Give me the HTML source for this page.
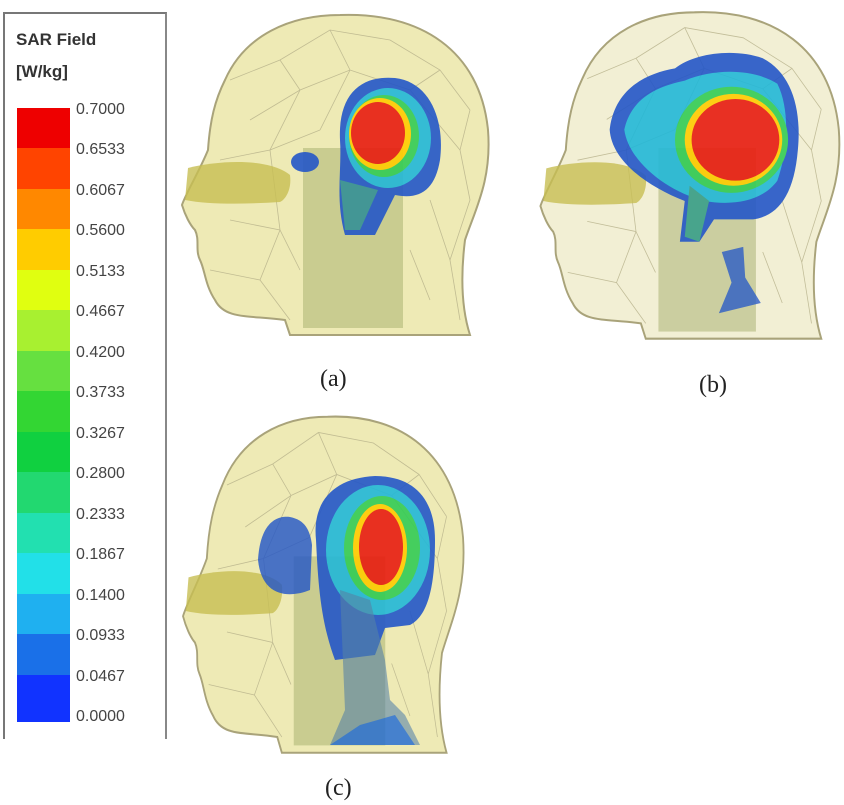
<!DOCTYPE html>
<html><head><style>
body{margin:0;background:#fff;width:844px;height:805px;overflow:hidden;position:relative;font-family:"Liberation Sans",sans-serif}
#leg{position:absolute;left:3px;top:12px;width:160px;height:725px;border:2px solid #777;border-bottom:none;border-right:2px solid #888;background:#fff}
.t{position:absolute;left:11px;font-weight:bold;font-size:17px;color:#333}
.lb{position:absolute;left:76px;font-size:16px;color:#444}
.cap{position:absolute;font-family:"Liberation Serif",serif;font-size:24px;color:#222}
</style></head><body>
<div id="leg">
<div class="t" style="top:16px">SAR Field</div>
<div class="t" style="top:48px">[W/kg]</div>
</div>
<svg width="844" height="805" style="position:absolute;left:0;top:0">
<defs>
<g id="outline">
<path d="M290,335 L285,320 C250,315 225,320 215,300 C205,285 205,270 200,260 C195,250 200,240 195,230 C190,225 185,215 182,205 C185,195 200,170 208,150 C210,120 215,100 225,80 C245,35 290,15 340,15 C420,12 480,50 488,130 C492,180 475,210 465,240 C460,280 462,310 470,335 Z" stroke="#a9a37a" stroke-width="2"/>
</g>
<g id="inner">
<g stroke="#b5b08a" stroke-width="0.8" fill="none" opacity="0.8">
<path d="M230,80 L280,60 L330,30 L390,40 L440,70 L470,110 M250,120 L300,90 L350,70 L410,90 L460,150 M220,160 L270,150 L320,130 M230,220 L280,230 L300,270 M210,270 L260,280 L290,320 M280,60 L300,90 L270,150 L280,230 L260,280 M330,30 L350,70 L320,130 M440,70 L410,90 M470,110 L460,150 L470,200 L450,260 L460,320 M430,200 L450,260 M410,250 L430,300"/>
</g>
<path d="M188,168 C220,160 270,158 290,175 C292,190 285,200 280,202 C250,204 210,205 185,200 Z" fill="#c7be52" opacity="0.8"/>
<rect x="303" y="148" width="100" height="180" fill="#a4ad6b" opacity="0.5"/>
</g>
</defs>
<g>
<rect x="17" y="108" width="53" height="41" fill="#ee0000"/>
<rect x="17" y="148" width="53" height="41" fill="#ff4400"/>
<rect x="17" y="189" width="53" height="41" fill="#ff8800"/>
<rect x="17" y="229" width="53" height="41" fill="#ffcc00"/>
<rect x="17" y="270" width="53" height="41" fill="#e0ff10"/>
<rect x="17" y="310" width="53" height="41" fill="#a8f030"/>
<rect x="17" y="351" width="53" height="41" fill="#66e040"/>
<rect x="17" y="391" width="53" height="41" fill="#33d633"/>
<rect x="17" y="432" width="53" height="41" fill="#10d040"/>
<rect x="17" y="472" width="53" height="41" fill="#22d870"/>
<rect x="17" y="513" width="53" height="41" fill="#22e0b0"/>
<rect x="17" y="553" width="53" height="41" fill="#22e0e8"/>
<rect x="17" y="594" width="53" height="41" fill="#1fb0f0"/>
<rect x="17" y="634" width="53" height="41" fill="#1a70e8"/>
<rect x="17" y="675" width="53" height="47" fill="#1133ff"/>
</g>
<!-- head a -->
<use href="#outline" fill="#eeeab5"/>
<use href="#inner"/>
<g opacity="0.9">
<path d="M340,140 C338,95 360,75 395,78 C430,82 445,120 440,160 C435,190 420,200 395,195 L375,235 L345,235 C335,200 342,170 340,140 Z" fill="#2457c8"/>
<ellipse cx="388" cy="138" rx="43" ry="50" fill="#22b8d8"/>
<ellipse cx="384" cy="136" rx="35" ry="41" fill="#33cc55"/>
<ellipse cx="380" cy="134" rx="31" ry="36" fill="#ffcc00"/>
<ellipse cx="378" cy="133" rx="27" ry="31" fill="#e81c10"/>
<path d="M340,180 L345,230 L360,230 L378,190 Z" fill="#3aa08a" opacity="0.8"/>
<ellipse cx="305" cy="162" rx="14" ry="10" fill="#2457c8"/>
</g>
<!-- head b -->
<g transform="translate(363,-3) scale(0.975,1.02)">
<use href="#outline" fill="#f2efd4"/>
<use href="#inner"/>
<g opacity="0.9">
<path d="M253,130 C258,90 290,75 320,70 C340,55 380,50 410,60 C440,75 450,110 446,150 C442,195 425,215 400,218 L360,218 L345,240 L325,240 L330,200 C290,185 255,160 253,130 Z" fill="#2457c8"/>
<path d="M268,130 C275,100 300,88 330,82 C360,70 400,70 425,85 C438,110 436,150 425,180 C410,200 380,205 350,200 C310,190 272,160 268,130 Z" fill="#22b8d8"/>
<ellipse cx="378" cy="140" rx="58" ry="52" fill="#33cc55"/>
<ellipse cx="380" cy="140" rx="50" ry="45" fill="#ffcc00"/>
<ellipse cx="382" cy="140" rx="45" ry="40" fill="#e81c10"/>
<path d="M335,185 L330,235 L345,240 L355,200 Z" fill="#3aa08a"/>
<path d="M368,250 L390,245 L392,275 L408,300 L365,310 L378,280 Z" fill="#2457c8" opacity="0.85"/>
</g>
</g>
<!-- head c -->
<g transform="translate(16.5,401) scale(0.915,1.05)">
<use href="#outline" fill="#eeeab5"/>
<use href="#inner"/>
</g>
<g opacity="0.9">
<path d="M316,540 C312,500 335,478 375,476 C415,476 435,500 435,540 C435,580 430,615 410,625 L385,628 L375,655 L335,660 C320,620 318,580 316,540 Z" fill="#2457c8"/>
<ellipse cx="378" cy="550" rx="52" ry="65" fill="#22b8d8"/>
<ellipse cx="382" cy="548" rx="38" ry="52" fill="#33cc55"/>
<ellipse cx="380" cy="548" rx="27" ry="44" fill="#ffcc00"/>
<ellipse cx="381" cy="547" rx="22" ry="38" fill="#e81c10"/>
<path d="M258,560 C260,525 275,515 290,517 C305,520 310,530 312,545 L310,590 C290,598 262,598 258,560 Z" fill="#2457c8" opacity="0.9"/>
<path d="M340,590 L370,600 L385,660 L390,700 L405,715 L420,745 L330,745 L345,710 Z" fill="#4a7aa8" opacity="0.6"/>
<path d="M330,745 L360,725 L395,715 L415,745 Z" fill="#1f6ad8" opacity="0.8"/>
</g>
</svg>
<div class="lb" style="top:101px">0.7000</div>
<div class="lb" style="top:141px">0.6533</div>
<div class="lb" style="top:182px">0.6067</div>
<div class="lb" style="top:222px">0.5600</div>
<div class="lb" style="top:263px">0.5133</div>
<div class="lb" style="top:303px">0.4667</div>
<div class="lb" style="top:344px">0.4200</div>
<div class="lb" style="top:384px">0.3733</div>
<div class="lb" style="top:425px">0.3267</div>
<div class="lb" style="top:465px">0.2800</div>
<div class="lb" style="top:506px">0.2333</div>
<div class="lb" style="top:546px">0.1867</div>
<div class="lb" style="top:587px">0.1400</div>
<div class="lb" style="top:627px">0.0933</div>
<div class="lb" style="top:668px">0.0467</div>
<div class="lb" style="top:708px">0.0000</div>
<div class="cap" style="left:320px;top:366px">(a)</div>
<div class="cap" style="left:699px;top:372px">(b)</div>
<div class="cap" style="left:325px;top:775px">(c)</div>
</body></html>
